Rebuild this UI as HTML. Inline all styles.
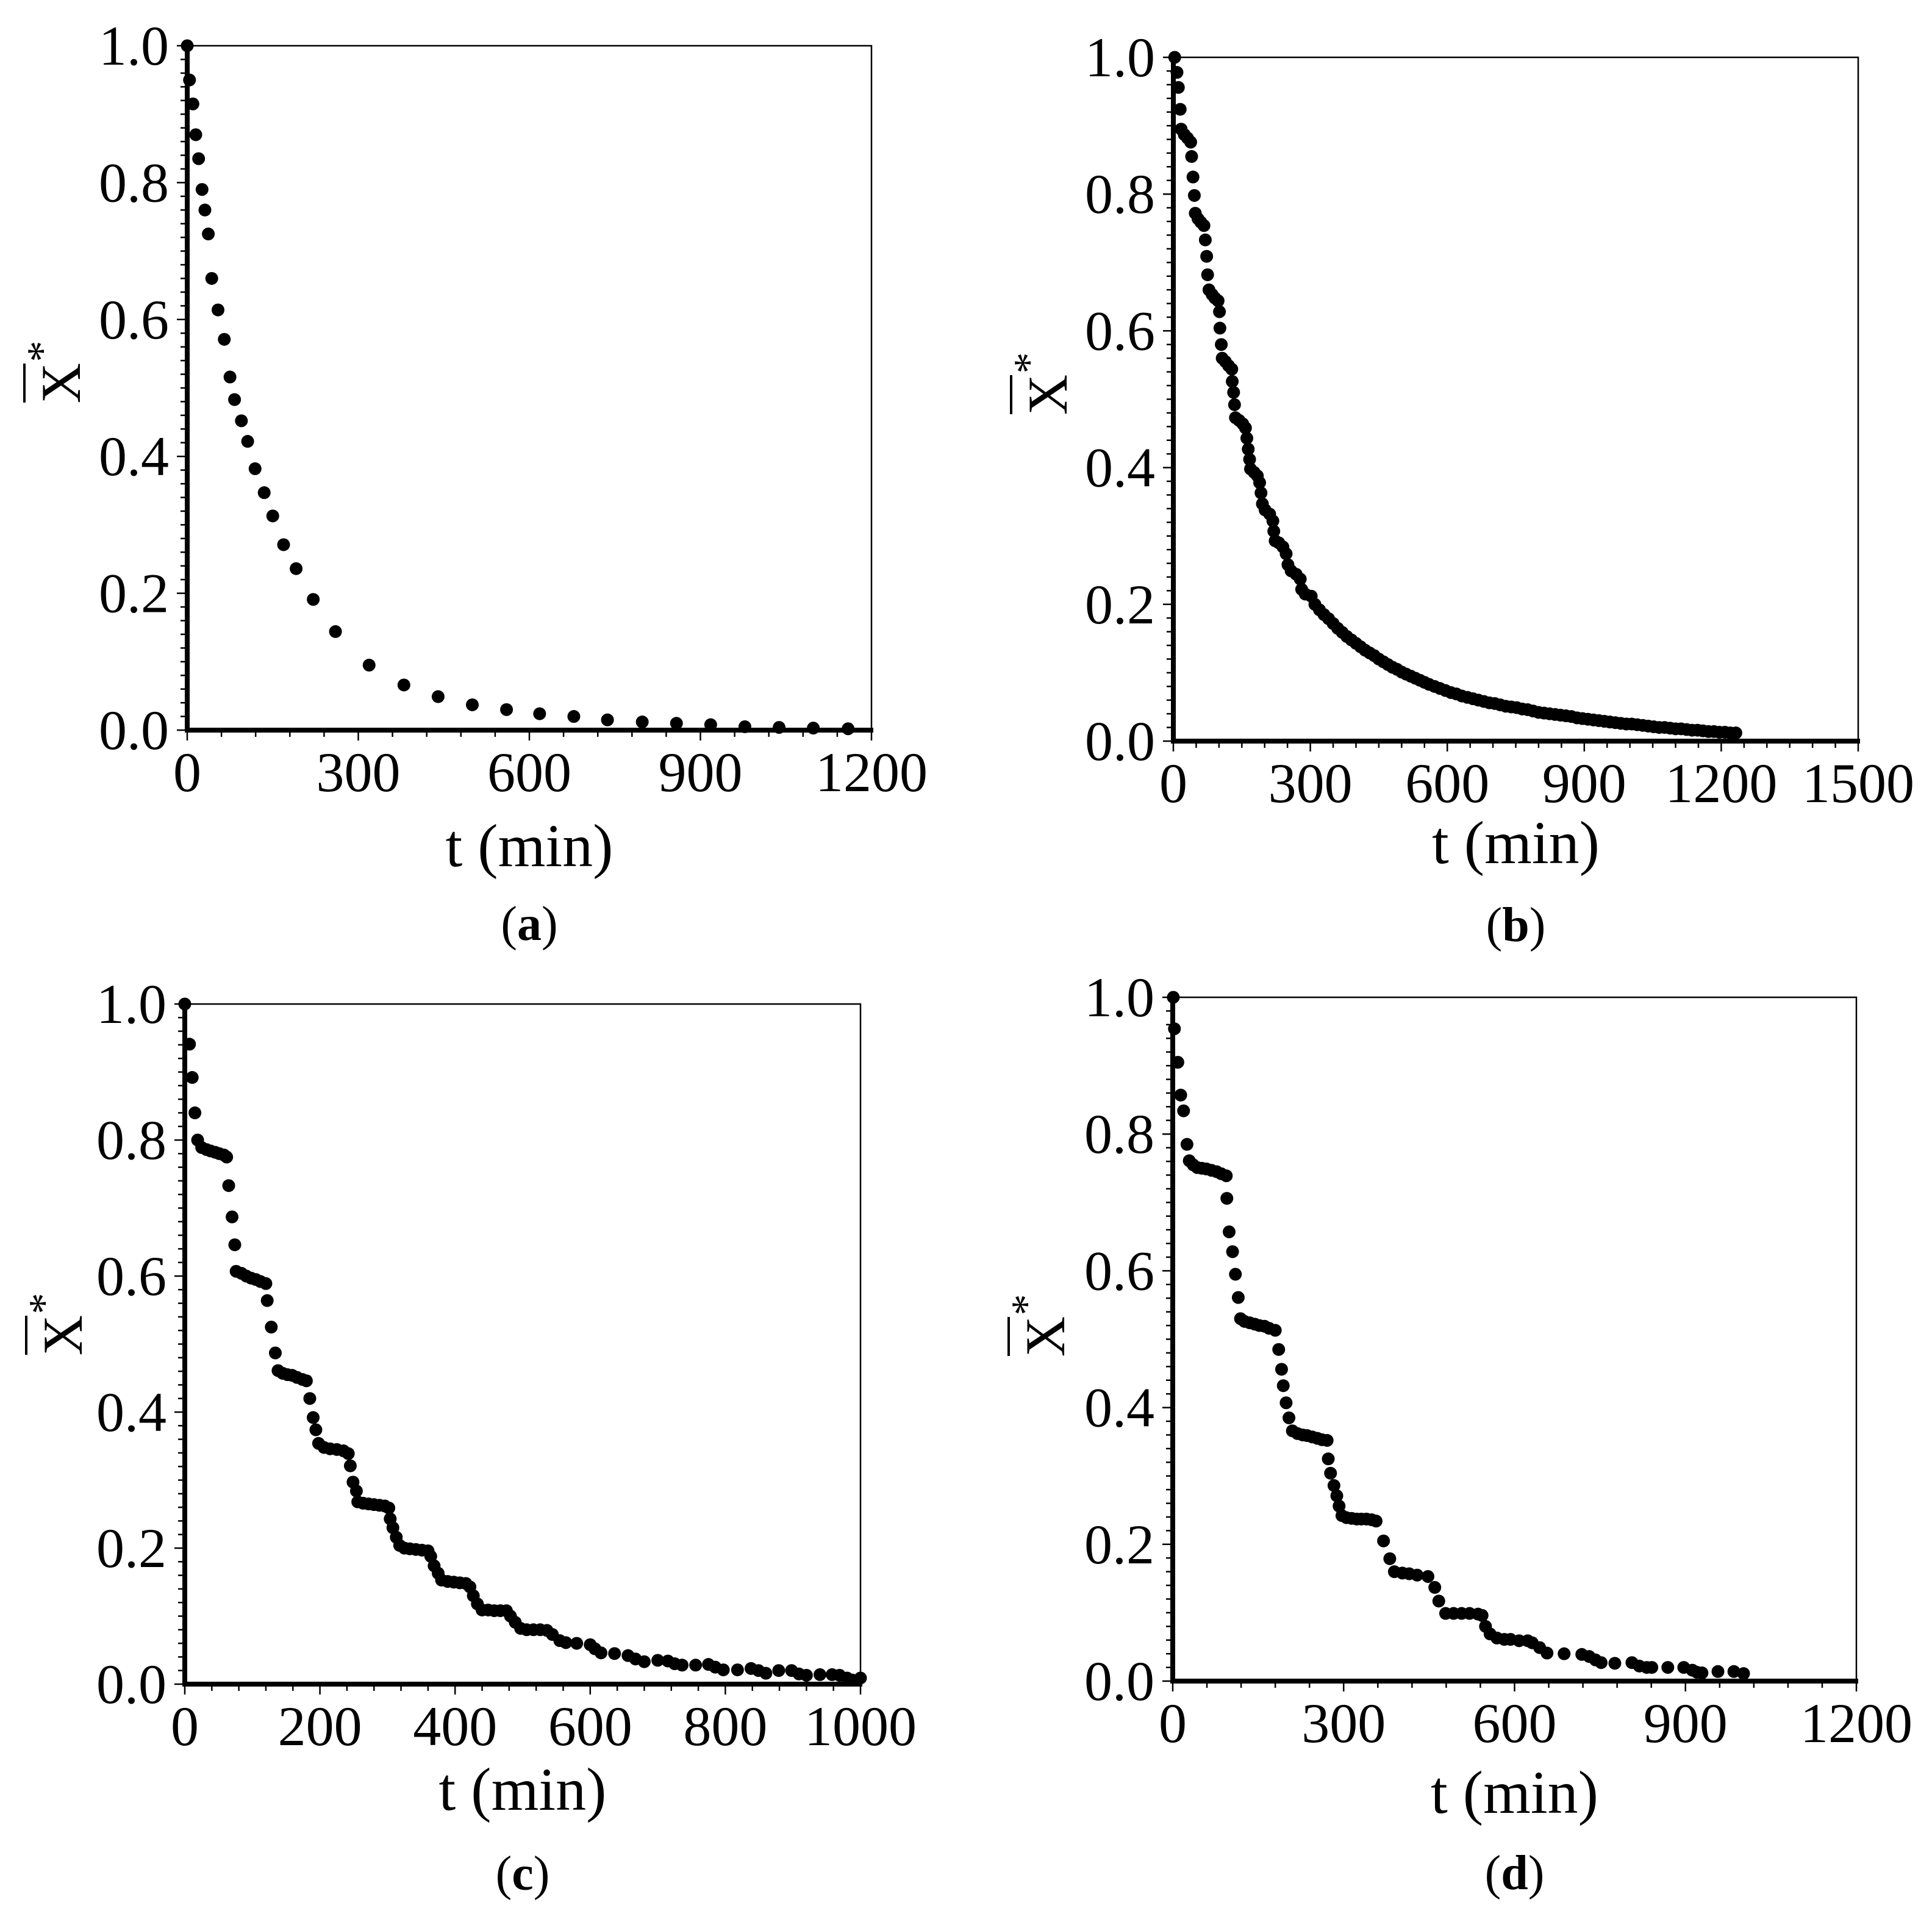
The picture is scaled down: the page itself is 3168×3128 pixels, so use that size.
<!DOCTYPE html>
<html><head><meta charset="utf-8"><style>
html,body{margin:0;padding:0;background:#fff;}
svg{display:block;font-family:"Liberation Serif",serif;}
</style></head>
<body>
<svg id="fig" width="3168" height="3128" viewBox="0 0 3168 3128" xmlns="http://www.w3.org/2000/svg"></svg>
<script>
// ---- data (t in min, normalized moisture X*) ----
const aT = [0,4,10,15,20,26,31,37,43,54,65,75,83,95,106,119,135,150,169,191,221,260,319,380,440,500,560,618,678,737,798,858,918,978,1038,1098,1159];
const aY = [1.0,0.95,0.915,0.87,0.835,0.79,0.76,0.725,0.66,0.614,0.571,0.516,0.483,0.452,0.422,0.382,0.347,0.313,0.271,0.236,0.191,0.144,0.095,0.066,0.049,0.037,0.030,0.024,0.020,0.015,0.012,0.010,0.008,0.005,0.004,0.003,0.002];

const bT = [3,8,11,15,17,24,31,38,40,43,46,48,54,60,67,70,73,75,78,85,91,98,101,102,105,107,114,121,128,129,132,134,136,144,152,158,161,164,167,169,177,184,189,192,195,201,211,218,220,223,231,240,247,251,258,269,278,281,289,302,
 310,320,330,340,350,360,370,380,390,400,410,420,430,440,450,460,470,480,490,500,510,520,530,540,550,560,572,584,596,608,620,632,644,656,668,680,692,704,716,728,740,752,764,776,788,800,812,824,836,848,860,872,884,896,908,920,932,944,956,968,980,992,1004,1016,1028,1040,1052,1064,1076,1088,1100,1112,1124,1136,1148,1160,1172,1184,1196,1208,1220,1232];
const bY = [1.0,0.978,0.956,0.924,0.895,0.887,0.882,0.876,0.855,0.825,0.798,0.772,0.764,0.759,0.754,0.733,0.709,0.682,0.66,0.653,0.648,0.644,0.628,0.604,0.58,0.56,0.555,0.549,0.544,0.526,0.51,0.492,0.473,0.469,0.464,0.458,0.443,0.427,0.412,0.398,0.393,0.388,0.378,0.363,0.347,0.338,0.332,0.322,0.307,0.293,0.29,0.284,0.274,0.258,0.249,0.244,0.237,0.222,0.215,0.212,
 0.200,0.192,0.185,0.179,0.172,0.165,0.159,0.153,0.148,0.143,0.138,0.133,0.129,0.125,0.120,0.116,0.112,0.108,0.105,0.101,0.098,0.095,0.092,0.089,0.086,0.083,0.080,0.077,0.074,0.071,0.069,0.066,0.064,0.062,0.060,0.058,0.056,0.055,0.053,0.051,0.050,0.049,0.047,0.046,0.044,0.042,0.041,0.040,0.039,0.038,0.037,0.036,0.034,0.033,0.032,0.031,0.030,0.029,0.028,0.027,0.026,0.025,0.025,0.024,0.023,0.022,0.021,0.020,0.020,0.019,0.018,0.018,0.017,0.016,0.016,0.015,0.014,0.014,0.013,0.013,0.012,0.012];

const cT = [0,7,11,15,19,25,32,38,45,51,58,62,65,70,74,76,84,91,98,105,112,120,122,128,134,138,145,152,159,166,174,180,185,190,194,198,206,215,225,235,242,245,249,254,256,264,272,280,288,296,302,304,308,313,318,325,333,342,351,360,364,369,375,380,389,398,407,416,422,427,433,440,449,458,467,476,482,489,497,506,516,526,536,544,555,564,580,600,607,616,636,656,667,680,700,715,725,736,756,775,785,797,818,838,849,860,879,898,909,920,940,958,969,980,988,1000];
const cY = [1.0,0.941,0.892,0.84,0.80,0.789,0.786,0.784,0.782,0.78,0.778,0.775,0.733,0.687,0.646,0.607,0.604,0.60,0.597,0.595,0.592,0.589,0.564,0.525,0.487,0.461,0.457,0.455,0.454,0.451,0.448,0.446,0.42,0.392,0.374,0.354,0.348,0.346,0.345,0.343,0.339,0.321,0.297,0.284,0.268,0.266,0.265,0.264,0.263,0.262,0.259,0.243,0.23,0.216,0.204,0.20,0.199,0.198,0.197,0.196,0.188,0.174,0.163,0.153,0.151,0.15,0.149,0.148,0.143,0.13,0.118,0.109,0.109,0.108,0.108,0.108,0.10,0.091,0.082,0.08,0.08,0.08,0.079,0.073,0.064,0.061,0.06,0.058,0.052,0.046,0.045,0.042,0.037,0.033,0.035,0.034,0.030,0.028,0.028,0.029,0.025,0.021,0.021,0.023,0.02,0.016,0.02,0.02,0.015,0.013,0.014,0.014,0.013,0.009,0.006,0.009];

const dT = [1,3,9,14,19,25,29,36,43,51,59,68,77,85,94,95,99,105,110,115,119,126,135,144,152,161,169,180,186,191,194,199,204,210,219,228,236,245,254,262,271,273,277,283,288,292,297,305,314,323,331,340,349,357,370,381,389,403,415,429,448,460,467,479,493,507,521,536,543,549,557,569,582,593,608,623,631,644,657,687,718,731,742,752,776,806,819,832,841,869,897,912,920,929,957,985,1002];
const dY = [1.0,0.954,0.905,0.857,0.834,0.785,0.761,0.755,0.751,0.75,0.749,0.747,0.745,0.742,0.739,0.706,0.657,0.628,0.595,0.561,0.53,0.526,0.524,0.522,0.52,0.519,0.516,0.513,0.485,0.456,0.432,0.407,0.385,0.366,0.362,0.36,0.359,0.357,0.355,0.353,0.352,0.325,0.304,0.286,0.271,0.256,0.242,0.239,0.238,0.237,0.237,0.237,0.236,0.234,0.205,0.179,0.16,0.158,0.157,0.155,0.153,0.137,0.117,0.099,0.099,0.099,0.099,0.098,0.096,0.08,0.069,0.063,0.061,0.061,0.059,0.059,0.056,0.049,0.041,0.040,0.039,0.036,0.031,0.027,0.026,0.027,0.022,0.02,0.02,0.02,0.02,0.016,0.013,0.012,0.014,0.014,0.011];

const yTicks = ["0.0","0.2","0.4","0.6","0.8","1.0"];
const aXTicks = ["0","300","600","900","1200"];
const bXTicks = ["0","300","600","900","1200","1500"];
const cXTicks = ["0","200","400","600","800","1000"];
const dXTicks = ["0","300","600","900","1200"];

const NS = "http://www.w3.org/2000/svg";
const fig = document.getElementById('fig');
function mk(tag, attrs, parent){ const e=document.createElementNS(NS,tag); for(const k in attrs) e.setAttribute(k,attrs[k]); parent.appendChild(e); return e; }

const panels = [
 {id:'a', T:aT, Y:aY, xt:aXTicks, xmax:1200, minor:60, L:307, R:1429, Tp:75, B:1197, yt:[100,628], tl:223, pl:344},
 {id:'b', T:bT, Y:bY, xt:bXTicks, xmax:1500, minor:50, L:1924, R:3047, Tp:94, B:1215, yt:[1718,647], tl:200, pl:328},
 {id:'c', T:cT, Y:cY, xt:cXTicks, xmax:1000, minor:40, L:303, R:1411, Tp:1646, B:2761, yt:[103,2189], tl:206, pl:337},
 {id:'d', T:dT, Y:dY, xt:dXTicks, xmax:1200, minor:60, L:1923, R:3044, Tp:1635, B:2756, yt:[1714,2191], tl:216, pl:341}
];

panels.forEach(p=>{
  const g = mk('g',{},fig);
  
  
  const xs = v => p.L + v/p.xmax*(p.R-p.L);
  const ys = v => p.B - v*(p.B-p.Tp);
  const fr = mk('path',{d:`M${p.L},${p.Tp} H${p.R} V${p.B}`,fill:'none',stroke:'#000','stroke-width':2.5},g);
  
  
  for(let i=0;i<=50;i++){
    const y=ys(i*0.02), major=(i%10===0);
    mk('line',{x1:p.L-(major?17:11),x2:p.L,y1:y,y2:y,stroke:'#000','stroke-width':2.5},g);
  }
  const nMin = Math.round(p.xmax/p.minor);
  const majStep = p.xmax/(p.xt.length-1);
  for(let i=0;i<=nMin;i++){
    const v=i*p.minor, x=xs(v), major=Math.abs(v/majStep-Math.round(v/majStep))<1e-6;
    mk('line',{x1:x,x2:x,y1:p.B,y2:p.B+(major?17:11),stroke:'#000','stroke-width':2.5},g);
  }
  const ya = mk('line',{x1:p.L,x2:p.L,y1:p.Tp-3,y2:p.B+4,stroke:'#000','stroke-width':8},g);
  
  
  const xa = mk('line',{x1:p.L-4,x2:p.R+3,y1:p.B,y2:p.B,stroke:'#000','stroke-width':8},g);
  
  
  yTicks.forEach((t,i)=>{
    const e=mk('text',{x:p.L-30,y:ys(i*0.2)+31,'font-size':92,'text-anchor':'end',fill:'#000'},g);
    e.textContent=t;
    
    
  });
  p.xt.forEach((t,i)=>{
    const e=mk('text',{x:xs(i*majStep),y:p.B+100,'font-size':92,'text-anchor':'middle',fill:'#000'},g);
    e.textContent=t;
    
    
  });
  const xt=mk('text',{x:(p.L+p.R)/2,y:p.B+p.tl,'font-size':100,'text-anchor':'middle',fill:'#000'},g);
  xt.textContent='t (min)';
  
  
  const pl=mk('text',{x:(p.L+p.R)/2,y:p.B+p.pl,'font-size':80,'text-anchor':'middle',fill:'#000'},g);
  pl.innerHTML='(<tspan font-weight="bold">'+p.id+'</tspan>)';
  
  
  const yg=mk('g',{transform:`translate(${p.yt[0]},${p.yt[1]}) rotate(-90)`},g);
  
  
  const X=mk('text',{x:0,y:31,'font-size':92,'text-anchor':'middle',fill:'#000'},yg);
  X.textContent='X';
  mk('line',{x1:-32,x2:32,y1:-60,y2:-60,stroke:'#000','stroke-width':4},yg);
  const st=mk('text',{x:52,y:-8,'font-size':70,'text-anchor':'middle',fill:'#000'},yg);
  st.textContent='*';
  p.T.forEach((t,i)=>{
    const c=mk('circle',{cx:xs(t),cy:ys(p.Y[i]),r:10.5,fill:'#000'},g);
    
    
  });
});
</script>
</body></html>
